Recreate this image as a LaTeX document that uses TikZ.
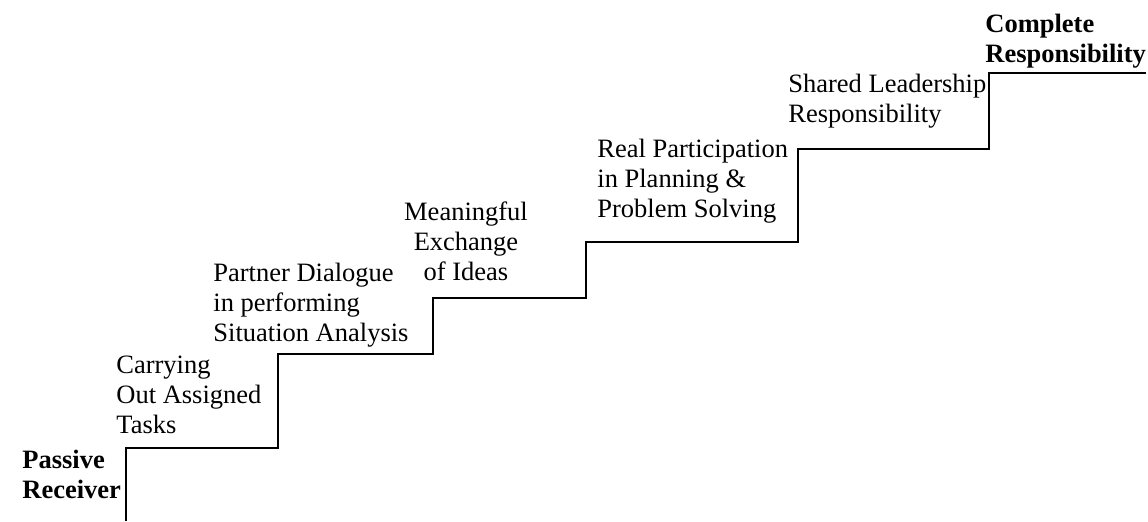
\documentclass[tikz,border=0pt]{standalone}
\usepackage{fontspec}
\setmainfont{Liberation Serif}

\begin{document}
\begin{tikzpicture}[x=0.5pt, y=-0.5pt,
    steptext/.style={font=\fontsize{13.25}{15}\selectfont, align=left, inner sep=0pt, anchor=base west},
    endtext/.style={steptext, font=\fontsize{13.25}{15}\selectfont\bfseries}]
    \useasboundingbox (0,0) rectangle (1148,521);

    % Staircase
    \draw[line width=1pt] (126,521) -- (126,448) -- (278,448) -- (278,354)
        -- (433,354) -- (433,298) -- (586,298) -- (586,242)
        -- (798,242) -- (798,149) -- (989,149) -- (989,73) -- (1146,73);

    % Bottom and top of the stairs (base = last line)
    \node[endtext] (passive) at (22,498) {Passive\\Receiver};
    \node[endtext] (complete) at (985,62) {Complete\\Responsibility};

    % Steps in between
    \node[steptext] (carrying) at (116,433) {Carrying\\Out Assigned\\Tasks};
    \node[steptext] (dialogue) at (213,341) {Partner Dialogue\\in performing\\Situation Analysis};
    \node[steptext, align=center, anchor=base] (exchange) at (466,280) {Meaningful\\Exchange\\of Ideas};
    \node[steptext] (planning) at (597,217) {Real Participation\\in Planning \&\\Problem Solving};
    \node[steptext] (shared) at (788,122) {Shared Leadership\\Responsibility};
\end{tikzpicture}
\end{document}
